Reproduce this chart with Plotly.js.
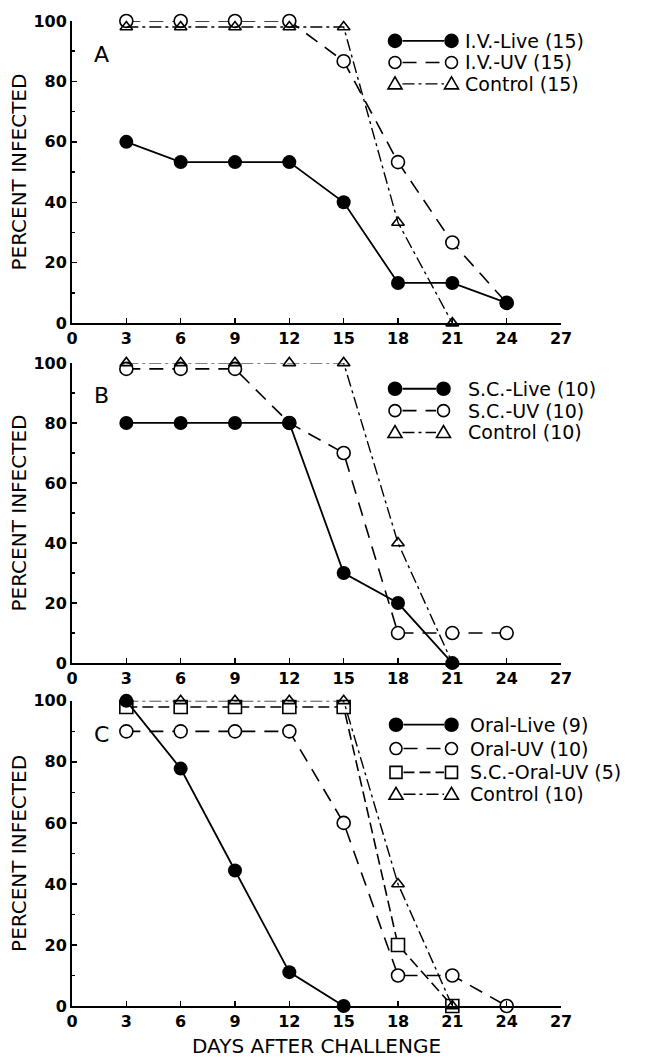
<!DOCTYPE html>
<html><head><meta charset="utf-8">
<script src="https://cdn.plot.ly/plotly-3.0.1.min.js"></script>
<style>html,body{margin:0;padding:0;background:#fff}</style>
</head><body>
<div id="chart" style="width:646px;height:1059px"></div>
<script>
// ---- data ----
const days = [3, 6, 9, 12, 15, 18, 21, 24];
const xTicks = [0, 3, 6, 9, 12, 15, 18, 21, 24, 27];
const yTicks = [0, 20, 40, 60, 80, 100];
const panelLetters = ['A', 'B', 'C'];
const xTitle = 'DAYS AFTER CHALLENGE';
const yTitle = 'PERCENT INFECTED';

// Panel A
const aLabels = ['I.V.-Live (15)', 'I.V.-UV (15)', 'Control (15)'];
const aLive = [60, 53.3, 53.3, 53.3, 40, 13.3, 13.3, 6.7];
const aUV = [100, 100, 100, 100, 86.7, 53.3, 26.7, 6.7];
const aControl = [98, 98, 98, 98, 98, 33.3, 0];

// Panel B
const bLabels = ['S.C.-Live (10)', 'S.C.-UV (10)', 'Control (10)'];
const bLive = [80, 80, 80, 80, 30, 20, 0];
const bUV = [98, 98, 98, 80, 70, 10, 10, 10];
const bControl = [100, 100, 100, 100, 100, 40, 0];

// Panel C
const cLabels = ['Oral-Live (9)', 'Oral-UV (10)', 'S.C.-Oral-UV (5)', 'Control (10)'];
const cLive = [100, 77.8, 44.4, 11.1, 0];
const cUV = [90, 90, 90, 90, 60, 10, 10, 0];
const cSCUV = [98, 98, 98, 98, 98, 20, 0];
const cControl = [100, 100, 100, 100, 100, 40, 0];

// ---- styles ----
const FONT = 'DejaVu Sans, Verdana, sans-serif';
const STY = {
  live:    {line: {color: 'black', width: 1.8, dash: 'solid'},
            marker: {symbol: 'circle', size: 14, color: 'black'}},
  uv:      {line: {color: 'black', width: 1.6, dash: '14px,9px'},
            marker: {symbol: 'circle', size: 13, color: 'white', line: {color: 'black', width: 1.6}}},
  scuv:    {line: {color: 'black', width: 1.6, dash: '11px,5px'},
            marker: {symbol: 'square', size: 13, color: 'white', line: {color: 'black', width: 1.6}}},
  control: {line: {color: 'black', width: 1.4, dash: '12px,4px,3px,4px'},
            marker: {symbol: 'triangle-up-open', size: 11, color: 'black', line: {color: 'black', width: 1.6}}}
};

function tr(name, ys, k, style) {
  const s = STY[style];
  return {
    type: 'scatter', mode: 'lines+markers', name: name,
    x: days.slice(0, ys.length), y: ys,
    xaxis: 'x' + (k === 1 ? '' : k), yaxis: 'y' + (k === 1 ? '' : k),
    line: s.line, marker: s.marker, cliponaxis: false, showlegend: false,
    hoverinfo: 'x+y+name'
  };
}

const data = [
  tr(aLabels[1], aUV, 1, 'uv'),
  tr(aLabels[2], aControl, 1, 'control'),
  tr(aLabels[0], aLive, 1, 'live'),
  tr(bLabels[1], bUV, 2, 'uv'),
  tr(bLabels[2], bControl, 2, 'control'),
  tr(bLabels[0], bLive, 2, 'live'),
  tr(cLabels[1], cUV, 3, 'uv'),
  tr(cLabels[2], cSCUV, 3, 'scuv'),
  tr(cLabels[3], cControl, 3, 'control'),
  tr(cLabels[0], cLive, 3, 'live')
];

// ---- geometry (pixels) ----
const ML = 72, MR = 85, MT = 15, MB = 53, W = 646, H = 1059;
const PW = W - ML - MR, PH = H - MT - MB;
const panels = [ // top and bottom pixel of each plot area
  {top: 15, bot: 319},
  {top: 359, bot: 661},
  {top: 699, bot: 1006}
];
const dom = p => [1 - (p.bot - MT) / PH, 1 - (p.top - MT) / PH];

function axX(k) {
  return {
    domain: [0, 1], anchor: 'y' + (k === 1 ? '' : k), range: [0, 27],
    tickvals: xTicks, ticktext: xTicks.map(String),
    ticks: 'inside', ticklen: 5, tickwidth: 1.5, tickcolor: 'black',
    showline: true, linewidth: 2, linecolor: 'black',
    showgrid: false, zeroline: false, fixedrange: true, automargin: false,
    tickfont: {family: FONT, size: 16, weight: 'bold', color: 'black'}
  };
}
function axY(k) {
  return {
    domain: dom(panels[k - 1]), anchor: 'x' + (k === 1 ? '' : k), range: [0, 100],
    tickvals: yTicks, ticktext: yTicks.map(String),
    ticks: 'inside', ticklen: 5, tickwidth: 1.5, tickcolor: 'black',
    minor: {ticks: 'inside', ticklen: 3, tickwidth: 1.5, tickcolor: 'black', dtick: 10, tick0: 0, showgrid: false},
    showline: true, linewidth: 2, linecolor: 'black',
    showgrid: false, zeroline: false, fixedrange: true,
    tickfont: {family: FONT, size: 16, weight: 'bold', color: 'black'},
    title: {text: yTitle, font: {family: FONT, size: 20, color: 'black'}, standoff: 1},
    automargin: true
  };
}

// ---- custom legends (marker — line — marker, label) ----
const shapes = [], annotations = [];
const symPath = {
  triangle: 'M-7,-5 L7,-5 L0,7 Z',
  square: 'M-6,-6 L6,-6 L6,6 L-6,6 Z'
};
function legendItem(k, rowY, x1, x2, xt, style, label) {
  const p = panels[k - 1];
  const suf = (k === 1 ? '' : k);
  const xr = 'x' + suf + ' domain', yr = 'y' + suf + ' domain';
  const fx = px => (px - ML) / PW;
  const fy = (p.bot - rowY) / (p.bot - p.top);
  const s = STY[style];
  const r = 6.5;
  shapes.push({type: 'line', xref: xr, yref: yr, xsizemode: 'pixel', ysizemode: 'scaled',
    xanchor: fx(x1), x0: r + 1, x1: (x2 - x1) - r - 1, y0: fy, y1: fy,
    line: {color: 'black', width: s.line.width, dash: s.line.dash}});
  [x1, x2].forEach(xx => {
    const base = {xref: xr, yref: yr, xsizemode: 'pixel', ysizemode: 'pixel',
      xanchor: fx(xx), yanchor: fy, line: {color: 'black', width: 1.6}};
    if (style === 'live') shapes.push(Object.assign({type: 'circle', x0: -r, x1: r, y0: -r, y1: r, fillcolor: 'black'}, base));
    else if (style === 'uv') shapes.push(Object.assign({type: 'circle', x0: -r + 0.5, x1: r - 0.5, y0: -r + 0.5, y1: r - 0.5, fillcolor: 'white'}, base));
    else if (style === 'scuv') shapes.push(Object.assign({type: 'path', path: symPath.square, fillcolor: 'white'}, base));
    else shapes.push(Object.assign({type: 'path', path: symPath.triangle, fillcolor: 'rgba(0,0,0,0)'}, base));
  });
  annotations.push({xref: xr, yref: yr, x: fx(xt), y: fy, xanchor: 'left', yanchor: 'middle',
    text: label, showarrow: false, font: {family: FONT, size: 19, color: 'black'}});
}
[35, 56.7, 78.3].forEach((y, i) => legendItem(1, y, 395, 451.5, 463, ['live', 'uv', 'control'][i], aLabels[i]));
[385, 407, 429].forEach((y, i) => legendItem(2, y, 395, 443.5, 466, ['live', 'uv', 'control'][i], bLabels[i]));
[723, 747, 771, 793].forEach((y, i) => legendItem(3, y, 396, 451.5, 468, ['live', 'uv', 'scuv', 'control'][i], cLabels[i]));

// panel letters
panelLetters.forEach((t, i) => {
  const suf = (i === 0 ? '' : i + 1);
  annotations.push({xref: 'x' + suf, yref: 'y' + suf, x: 1.65, y: 89, text: t, showarrow: false,
    xanchor: 'center', yanchor: 'middle', font: {family: FONT, size: 22, color: 'black'}});
});

// x-axis title of the bottom panel (placed below the tick labels)
annotations.push({xref: 'x3 domain', yref: 'paper', x: 0.5, y: 1 - (1046 - MT) / PH,
  xanchor: 'center', yanchor: 'middle', text: xTitle, showarrow: false,
  font: {family: FONT, size: 20, color: 'black'}});

const layout = {
  width: W, height: H, margin: {l: ML, r: MR, t: MT, b: MB},
  paper_bgcolor: 'white', plot_bgcolor: 'white', showlegend: false,
  font: {family: FONT, color: 'black'},
  xaxis: axX(1), xaxis2: axX(2), xaxis3: axX(3),
  yaxis: axY(1), yaxis2: axY(2), yaxis3: axY(3),
  shapes: shapes, annotations: annotations
};

Plotly.newPlot('chart', data, layout, {staticPlot: true, displayModeBar: false});
</script>
</body></html>
